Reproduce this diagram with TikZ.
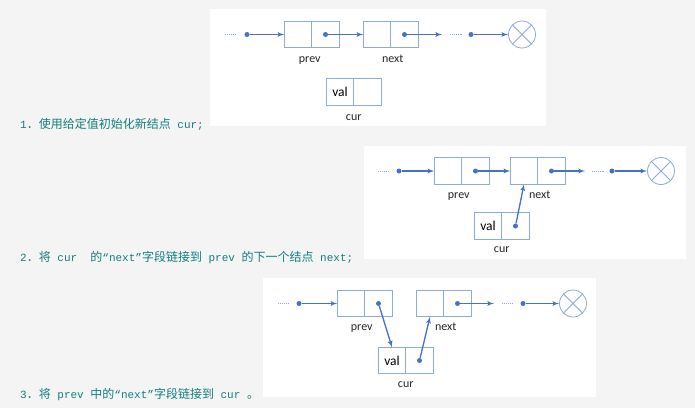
\documentclass[tikz,border=0pt]{standalone}
\usepackage{fontspec}
\setmainfont{Carlito}
\setmonofont{Liberation Mono}
\newfontfamily\hanzifam{Noto Sans CJK SC}
\usetikzlibrary{arrows, positioning}
\definecolor{lnblue}{HTML}{4472C4}
\definecolor{bxblue}{HTML}{8EA9DB}
\definecolor{descteal}{HTML}{127E7E}
\definecolor{pagegray}{HTML}{F4F4F4}
\newcommand{\codefont}{\fontsize{11}{13}\selectfont\ttfamily}
\newcommand{\hanzi}    {\fontsize{12}{14}\selectfont\hanzifam}

\begin{document}
\begin{tikzpicture}
    [
        x=1pt, y=-1pt,
        font=\fontsize{12}{14}\selectfont,
        cell/.style  ={rectangle, draw=bxblue, line width=0.8pt, outer sep=0pt,
                       inner sep=0pt, minimum width=27.5pt, minimum height=26.5pt},
        vcell/.style ={cell, font=\fontsize{13.5}{15}\selectfont},
        point/.style ={circle, fill=lnblue, inner sep=0pt, minimum size=5pt},
        nil/.style   ={circle, draw=bxblue, line width=0.8pt, inner sep=0pt,
                       minimum size=27pt},
        oarc/.style  ={->, >=latex', draw=lnblue, line width=1.3pt},
        gap/.style   ={draw=bxblue, line width=0.7pt, dash pattern=on 0.9pt off 1pt},
        lbl/.style   ={text=black!85, inner sep=1pt, text height=8pt, text depth=2.5pt},
        desc/.style  ={anchor=base west, text=descteal, inner sep=0pt},
        panel/.style ={fill=white}
    ]

    \fill[pagegray] (0,0) rectangle (695,408);
    \useasboundingbox (0,0) rectangle (695,408);

    % step 1
    \fill[panel] (210,9) rectangle (546,126);

    \node[cell]      (p1a)   at (298,34.5)          {};
    \node[cell]      (p1b)   [right=0pt of p1a]     {};
    \node[cell]      (n1a)   at (377,34.5)          {};
    \node[cell]      (n1b)   [right=0pt of n1a]     {};
    \node[vcell]     (c1a)   at (340,92)            {val};
    \node[cell]      (c1b)   [right=0pt of c1a]     {};

    \node[lbl]       (l1p)   [below=6pt of p1a.south east, xshift=-2pt] {prev};
    \node[lbl]       (l1n)   [below=6pt of n1a.south east, xshift=2pt]  {next};
    \node[lbl]       (l1c)   [below=6pt of c1a.south east]              {cur};

    \coordinate      (g1a)   at (225,34.5);
    \coordinate      (g1b)   at (236,34.5);
    \node[point]     (s1)    at (247,34.5)          {};
    \node[point]     (d1p)   at (p1b.center)        {};
    \node[point]     (d1n)   at (n1b.center)        {};
    \coordinate      (e1)    at (442,34.5);
    \coordinate      (h1a)   at (450,34.5);
    \coordinate      (h1b)   at (462,34.5);
    \node[point]     (t1)    at (471,34.5)          {};
    \node[nil]       (x1)    at (522,34.5)          {};

    \draw[gap]      (g1a) to (g1b);
    \draw[oarc]     (s1)  to (p1a);
    \draw[oarc]     (d1p) to (n1a);
    \draw[oarc]     (d1n) to (e1);
    \draw[gap]      (h1a) to (h1b);
    \draw[oarc]     (t1)  to (x1);
    \draw[bxblue, line width=0.8pt] (x1.45) -- (x1.225) (x1.135) -- (x1.315);

    \node[desc]      (desc1) at (20,128)
        {{\codefont 1}{\hanzi ．使用给定值初始化新结点}{\codefont\ cur;}};

    % step 2
    \fill[panel] (364,146) rectangle (686,259);

    \node[cell]      (p2a)   at (448,171)           {};
    \node[cell]      (p2b)   [right=0pt of p2a]     {};
    \node[cell]      (n2a)   at (524,171)           {};
    \node[cell]      (n2b)   [right=0pt of n2a]     {};
    \node[vcell]     (c2a)   at (488,226)           {val};
    \node[cell]      (c2b)   [right=0pt of c2a]     {};

    \node[lbl]       (l2p)   [below=5pt of p2a.south east, xshift=-3pt] {prev};
    \node[lbl]       (l2n)   [below=5pt of n2a.south east, xshift=2pt]  {next};
    \node[lbl]       (l2c)   [below=4pt of c2a.south east]              {cur};

    \coordinate      (g2a)   at (378,171);
    \coordinate      (g2b)   at (389,171);
    \node[point]     (s2)    at (399,171)           {};
    \node[point]     (d2p)   at (p2b.center)        {};
    \node[point]     (d2n)   at (n2b.center)        {};
    \node[point]     (d2c)   at (c2b.center)        {};
    \coordinate      (e2)    at (585,171);
    \coordinate      (h2a)   at (592,171);
    \coordinate      (h2b)   at (604,171);
    \node[point]     (t2)    at (612,171)           {};
    \node[nil]       (x2)    at (661,171)           {};

    \draw[gap]      (g2a) to (g2b);
    \draw[oarc]     (s2)  to (p2a);
    \draw[oarc]     (d2p) to (n2a);
    \draw[oarc]     (d2n) to (e2);
    \draw[gap]      (h2a) to (h2b);
    \draw[oarc]     (t2)  to (x2);
    \draw[oarc]     (d2c) to (n2a.south);
    \draw[bxblue, line width=0.8pt] (x2.45) -- (x2.225) (x2.135) -- (x2.315);

    \node[desc]      (desc2) at (20,261)
        {{\codefont 2}{\hanzi ．将}{\codefont\ cur\ \ }{\hanzi 的}{\codefont “next”}%
         {\hanzi 字段链接到}{\codefont\ prev\ }{\hanzi 的下一个结点}{\codefont\ next;}};

    % step 3
    \fill[panel] (263,278) rectangle (596,397);

    \node[cell]      (p3a)   at (351,303.5)         {};
    \node[cell]      (p3b)   [right=0pt of p3a]     {};
    \node[cell]      (n3a)   at (430,303.5)         {};
    \node[cell]      (n3b)   [right=0pt of n3a]     {};
    \node[vcell]     (c3a)   at (392,360.5)         {val};
    \node[cell]      (c3b)   [right=0pt of c3a]     {};

    \node[lbl]       (l3p)   [below=5pt of p3a.south east, xshift=-3pt] {prev};
    \node[lbl]       (l3n)   [below=5pt of n3a.south east, xshift=2pt]  {next};
    \node[lbl]       (l3c)   [below=5pt of c3a.south east]              {cur};

    \coordinate      (g3a)   at (278,303.5);
    \coordinate      (g3b)   at (289,303.5);
    \node[point]     (s3)    at (299,303.5)         {};
    \node[point]     (d3p)   at (p3b.center)        {};
    \node[point]     (d3n)   at (n3b.center)        {};
    \node[point]     (d3c)   at (c3b.center)        {};
    \coordinate      (e3)    at (494,303.5);
    \coordinate      (h3a)   at (502,303.5);
    \coordinate      (h3b)   at (513,303.5);
    \node[point]     (t3)    at (523,303.5)         {};
    \node[nil]       (x3)    at (573,303.5)         {};

    \draw[gap]      (g3a) to (g3b);
    \draw[oarc]     (s3)  to (p3a);
    \draw[oarc]     (d3p) to (c3a.north);
    \draw[oarc]     (d3c) to (n3a.south);
    \draw[oarc]     (d3n) to (e3);
    \draw[gap]      (h3a) to (h3b);
    \draw[oarc]     (t3)  to (x3);
    \draw[bxblue, line width=0.8pt] (x3.45) -- (x3.225) (x3.135) -- (x3.315);

    \node[desc]      (desc3) at (20,398)
        {{\codefont 3}{\hanzi ．将}{\codefont\ prev\ }{\hanzi 中的}{\codefont “next”}%
         {\hanzi 字段链接到}{\codefont\ cur\ }{\hanzi 。}};

\end{tikzpicture}
\end{document}
